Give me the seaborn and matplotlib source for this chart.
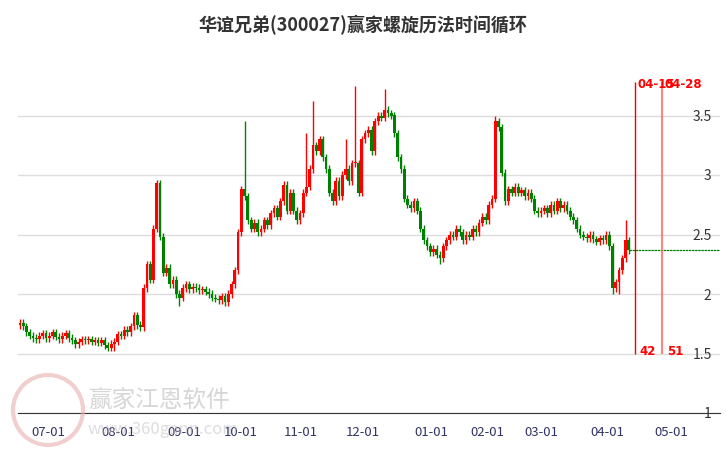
import numpy as np
import pandas as pd
import matplotlib
matplotlib.use("Agg")
import matplotlib.pyplot as plt
from matplotlib.patches import Ellipse
import seaborn as sns

closes = [1.76,1.73,1.68,1.65,1.63,1.62,1.65,1.67,1.63,
          1.65,1.68,1.64,1.62,1.65,1.67,1.63,1.61,1.58,1.60,1.62,1.61,1.62,1.60,1.61,1.59,1.61,1.57,1.55,1.58,1.60,
          1.66,1.65,1.70,1.68,1.73,1.82,1.74,1.72,2.05,2.25,2.12,2.55,2.93,2.48,2.18,2.22,2.08,2.12,2.00,1.97,
          2.05,2.08,2.04,2.06,2.05,2.03,2.04,2.02,2.00,1.97,1.96,1.95,1.98,1.93,2.00,2.08,2.20,2.52,
          2.88,2.82,2.62,2.55,2.60,2.52,2.55,2.62,2.58,2.68,2.72,2.65,2.78,2.92,2.70,2.85,2.70,2.62,
          2.68,2.85,2.90,3.05,3.25,3.20,3.30,3.15,3.05,2.85,2.78,2.95,2.82,3.00,3.05,2.95,3.10,3.10,2.85,
          3.30,3.35,3.38,3.20,3.45,3.50,3.48,3.55,3.52,3.50,3.35,3.15,3.05,2.80,2.75,2.72,2.78,2.70,2.55,2.45,2.40,
          2.35,2.38,2.33,2.30,2.40,2.45,2.50,2.48,2.55,2.52,2.45,2.50,2.48,2.55,2.52,2.60,2.65,
          2.62,2.75,2.80,3.45,3.40,3.02,2.78,2.88,2.85,2.90,2.85,2.87,2.82,2.85,2.80,2.70,2.68,
          2.70,2.72,2.68,2.75,2.70,2.78,2.72,2.75,2.70,2.65,2.62,2.55,2.50,2.48,2.47,2.50,2.46,2.44,2.47,2.45,2.50,2.40,2.05,2.10,2.20,2.30,2.45,2.37]
first_open = 1.74
high_spikes = {42: 2.96, 69: 3.45, 90: 3.62, 103: 3.75, 112: 3.72, 146: 3.50, 186: 2.62, 88: 3.35, 100: 3.3}
low_spikes = {182: 2.00, 184: 2.00, 29: 1.52, 49: 1.90, 129: 2.25}
tick_pos = [8.6, 30.2, 50.5, 67.7, 86.2, 105.2, 126.2, 143.4, 160, 180.3, 200]
tick_labels = ["07-01","08-01","09-01","10-01","11-01","12-01","01-01","02-01","03-01","04-01","05-01"]
cycle_pos = [188.9, 197.2]
cycle_dates = ["04-15", "04-28"]
cycle_counts = ["42", "51"]
yticks = [1, 1.5, 2, 2.5, 3, 3.5]
ylabels = ["1", "1.5", "2", "2.5", "3", "3.5"]

opens = [first_open] + closes[:-1]
df = pd.DataFrame({"i": np.arange(len(closes)), "open": opens, "close": closes})
df["high"] = df[["open", "close"]].max(axis=1) + 0.03
df["low"] = df[["open", "close"]].min(axis=1) - 0.03
for k, v in high_spikes.items():
    df.loc[k, "high"] = v
for k, v in low_spikes.items():
    df.loc[k, "low"] = v
df["up"] = df["close"] >= df["open"]

sns.set_style("white")
plt.rcParams['font.family'] = ['Noto Sans CJK SC', 'DejaVu Sans']
fig = plt.figure(figsize=(7.26, 4.5), dpi=100)
ax = fig.add_axes([18/726, 1-413/450, 702/726, (413-56)/450])
ax.set_xlim(-0.6, 215)
ax.set_ylim(1, 4)

cols = np.where(df["up"], "#ff0000", "#008000")
ax.vlines(df["i"], df["low"], df["high"], colors=cols, lw=1, zorder=3)
bottoms = df[["open", "close"]].min(axis=1)
heights = (df["close"] - df["open"]).abs().clip(lower=0.01)
ax.bar(df["i"], heights, bottom=bottoms, width=0.85, color=cols, zorder=4, linewidth=0)

last = closes[-1]
ax.hlines(last, len(closes) - 1, 215, colors="#008000", lw=0.9, linestyles=(0, (2, 0.5)), zorder=3)

for j, (p, d, c) in enumerate(zip(cycle_pos, cycle_dates, cycle_counts)):
    if j == 0:
        ax.vlines(p, 1.5, 3.78, colors="#ee0000", lw=1, zorder=5)
    else:
        ax.vlines(p, 1.5, 3.78, colors="#ff6666", lw=1.5, alpha=0.8, zorder=5)
    ax.text(p + 0.8, 3.76, d, color="#ff0000", fontsize=8.5, fontweight="bold", family="DejaVu Sans", va="center", zorder=6)
    ax.text(p + 1.5, 1.52, c, color="#ff0000", fontsize=8.5, fontweight="bold", family="DejaVu Sans", va="center", zorder=6)

ax.set_yticks(yticks)
ax.set_yticklabels(ylabels)
ax.yaxis.tick_right()
ax.tick_params(axis="y", length=0, pad=-6, labelsize=10, labelcolor="#333333")
for lab in ax.get_yticklabels():
    lab.set_horizontalalignment("right")
ax.grid(axis="y", color="#dddddd", lw=1)
ax.set_xticks(tick_pos)
ax.set_xticklabels(tick_labels)
ax.tick_params(axis="x", length=6, width=1, color="#333333", labelsize=9.5, labelcolor="#333366", direction="out")
for s in ["left", "right", "top"]:
    ax.spines[s].set_visible(False)
ax.spines["bottom"].set_color("#333333")

fig.text(0.5, 1-25/450, "华谊兄弟(300027)赢家螺旋历法时间循环", ha="center", va="center", fontsize=13, fontweight="bold", color="#333333")
fig.text(88/726, 1-401/450, "赢家江恩软件", fontsize=17, color="#bbbbbb", alpha=0.6, va="center", zorder=0)
fig.text(88/726, 1-430/450, "www.360gann.com", fontsize=12, color="#bbbbbb", alpha=0.5, va="center", zorder=0)
circ = Ellipse((48/726, 1-410/450), 70/726, 70/450, transform=fig.transFigure, fill=False, ec="#e8b0b0", lw=3, alpha=0.6)
fig.add_artist(circ)

fig.savefig("out.png", dpi=100)
